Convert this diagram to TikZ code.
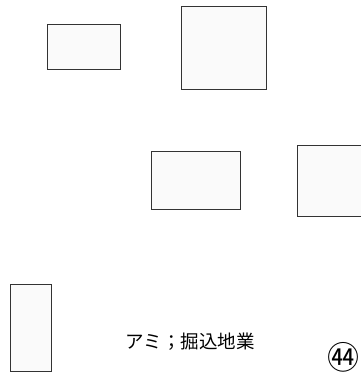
\documentclass[tikz,border=0pt]{standalone}
\usepackage{fontspec}
\newfontfamily\jpfont{Noto Sans CJK JP}
\tikzset{pit/.style={draw=black!80,fill=black!2,line width=0.9pt,inner sep=0pt,minimum width=#1}}
\begin{document}
\begin{tikzpicture}[x=1pt,y=-1pt]
              \useasboundingbox (0,0) rectangle (360,374);
              \node[pit=73pt,minimum height=45pt] (pitA) at (83.5,46.5) {};
              \node[pit=85pt,minimum height=83pt] (pitB) at (223.5,47.5) {};
              \node[pit=89pt,minimum height=58pt] (pitC) at (195.5,180) {};
              \node[pit=70pt,minimum height=71pt] (pitD) at (332,180.5) {};
              \node[pit=41pt,minimum height=87pt] (pitE) at (30.5,327.5) {};
              \node[font=\jpfont\fontsize{18.5}{18.5}\selectfont] (label) at (190,342) {アミ；掘込地業};
              \node[font=\jpfont\fontsize{32}{32}\selectfont,inner sep=0pt] (num) at (343,357) {㊹};
        \end{tikzpicture}
\end{document}
